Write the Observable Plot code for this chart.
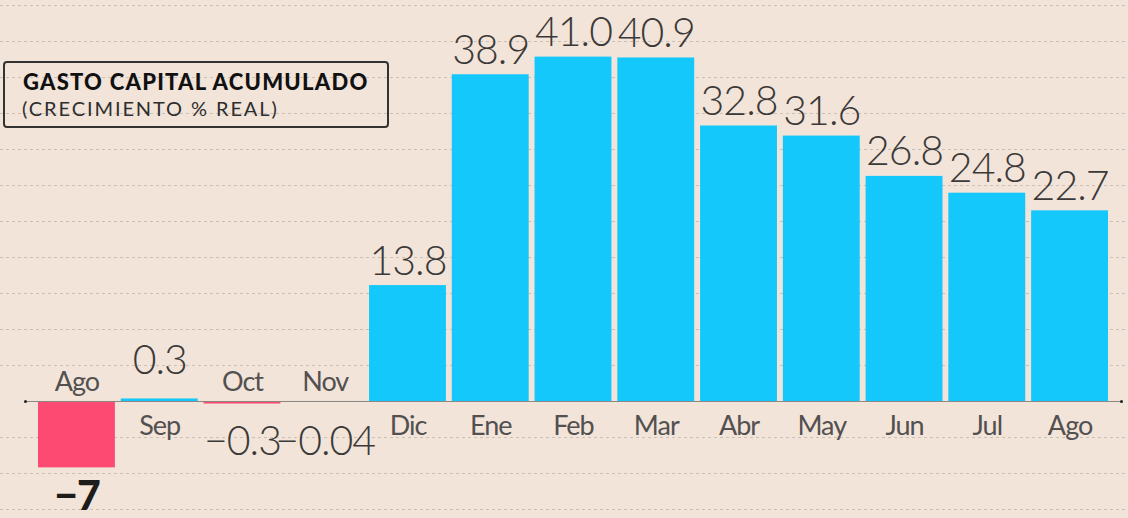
<!DOCTYPE html>
<html>
<head>
<meta charset="utf-8">
<script src="https://cdn.jsdelivr.net/npm/d3@7"></script>
<script src="https://cdn.jsdelivr.net/npm/@observablehq/plot@0.6"></script>
<style>
  html, body { margin: 0; padding: 0; background: #f2e4d9; }
  #wrap { position: relative; width: 1128px; height: 518px; overflow: hidden; }
  #title {
    position: absolute; left: 3px; top: 61px; width: 382px; height: 63px;
    border: 2px solid #333; border-radius: 4px; box-sizing: content-box;
    font-family: Lato, "Open Sans", sans-serif; color: #111;
  }
  #title .t1 { position: absolute; left: 18px; top: 8px; font-size: 22px; line-height: 22px; font-weight: 900; letter-spacing: 1.25px; white-space: nowrap; }
  #title .t2 { position: absolute; left: 17px; top: 35px; font-size: 20px; line-height: 20px; font-weight: 400; color: #2e2e2e; white-space: nowrap; letter-spacing: 1.9px; }
  svg text { letter-spacing: -1px; }
</style>
</head>
<body>
<div id="wrap">
  <div id="chart"></div>
  <div id="title">
    <div class="t1">GASTO CAPITAL ACUMULADO</div>
    <div class="t2">(CRECIMIENTO % REAL)</div>
  </div>
</div>
<script>
// ---- data ----
const months = ["Ago", "Sep", "Oct", "Nov", "Dic", "Ene", "Feb", "Mar", "Abr", "May", "Jun", "Jul", "Ago"];
const values = [-7.9, 0.3, -0.3, -0.04, 13.8, 38.9, 41.0, 40.9, 32.8, 31.6, 26.8, 24.8, 22.7];
const valueLabels = ["−7", "0.3", "−0.3", "−0.04", "13.8", "38.9", "41.0", "40.9", "32.8", "31.6", "26.8", "24.8", "22.7"];
const gridValues = [-12.86, -8.57, -4.29, 4.29, 8.57, 12.86, 17.14, 21.43, 25.71, 30.0, 34.29, 38.57, 42.86, 47.14];

const data = months.map((m, i) => ({ i, month: m, value: values[i], label: valueLabels[i] }));

const cyan = "#14c8fc";
const pink = "#fc4a72";

const chart = Plot.plot({
  width: 1128,
  height: 518,
  marginTop: 0, marginBottom: 0, marginLeft: 0, marginRight: 0,
  style: { background: "#f2e4d9", fontFamily: "Lato, 'Open Sans', sans-serif", overflow: "visible" },
  x: { type: "band", domain: d3.range(months.length), range: [25, 1121], paddingInner: 0.071, paddingOuter: 0.157, round: false, axis: null },
  y: { domain: [-13.93, 47.74], range: [518, 0], axis: null },
  marks: [
    Plot.ruleY(gridValues, { stroke: "#cbc0b6", strokeDasharray: "3,3", strokeWidth: 1 }),
    Plot.barY(data, { x: "i", y: "value", fill: d => d.value < 0 ? pink : cyan }),
    Plot.ruleY([0], { stroke: "#8c8782", strokeWidth: 1, insetLeft: 25, insetRight: 7 }),
    Plot.dot([0], { y: d => d, frameAnchor: "left", dx: 25, r: 1.5, fill: "#222", stroke: null }),
    Plot.dot([0], { y: d => d, frameAnchor: "right", dx: -7, r: 1.5, fill: "#222", stroke: null }),
    // category labels
    Plot.text(data, {
      x: "i", y: 0, text: "month", lineAnchor: "bottom",
      fontSize: 27, fill: "#525050", fontWeight: 400,
      filter: d => d.value >= 0, dy: 34
    }),
    Plot.text(data, {
      x: "i", y: 0, text: "month", lineAnchor: "bottom",
      fontSize: 27, fill: "#525050", fontWeight: 400,
      filter: d => d.value < 0, dy: -10
    }),
    // value labels, positive
    Plot.text(data, {
      x: "i", y: d => Math.max(d.value, 2), text: "label", lineAnchor: "bottom",
      dy: -11, fontSize: 41, fill: "#3b3938", fontWeight: 300,
      filter: d => d.value >= 0
    }),
    // value labels, negative
    Plot.text(data, {
      x: "i", y: d => Math.min(d.value, -1.2), text: "label", lineAnchor: "top",
      dy: 14, fontSize: 41, fill: "#3b3938", fontWeight: 300,
      filter: d => d.value < 0 && d.i !== 0
    }),
    Plot.text(data, {
      x: "i", y: d => d.value, text: "label", lineAnchor: "top",
      dy: 13, fontSize: 41, fill: "#1e1c1b", fontWeight: 900,
      filter: d => d.i === 0
    })
  ]
});
document.getElementById("chart").appendChild(chart);
</script>
</body>
</html>
